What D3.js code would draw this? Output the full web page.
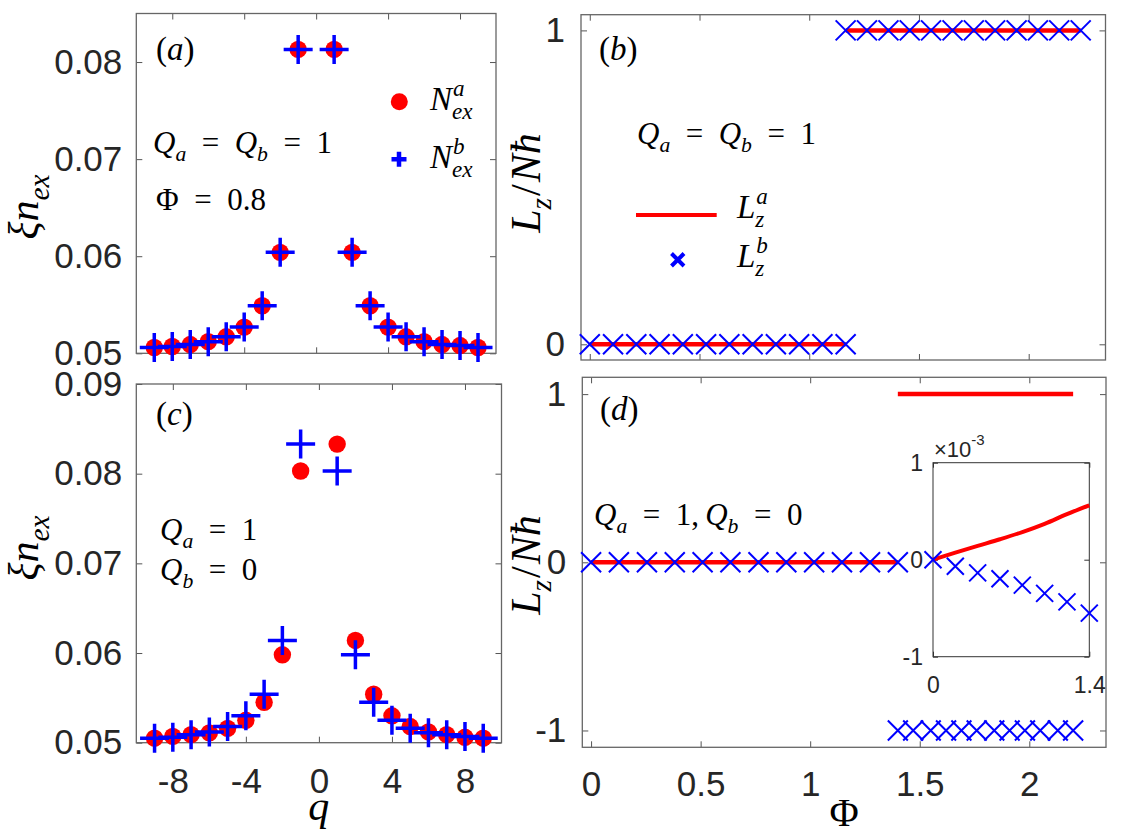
<!DOCTYPE html>
<html>
<head>
<meta charset="utf-8">
<script src="https://d3js.org/d3.v7.min.js"></script>
<style>
  body { margin: 0; background: #fff; }
  .tick text { font-family: "Liberation Sans", Arial, sans-serif; fill: #262626; }
</style>
</head>
<body>
<div id="chart"></div>
<script>
// ---- data ----
var qVals = [-9, -8, -7, -6, -5, -4, -3, -2, -1, 1, 2, 3, 4, 5, 6, 7, 8, 9];

// (a) Qa = Qb = 1, Phi = 0.8
var nexA_a = [0.0506, 0.0507, 0.0509, 0.0512, 0.0517, 0.0527, 0.0549, 0.0604, 0.0813,
              0.0813, 0.0604, 0.0549, 0.0527, 0.0517, 0.0512, 0.0509, 0.0508, 0.0506];
var nexA_b = [0.0506, 0.0507, 0.0509, 0.0512, 0.0517, 0.0527, 0.0549, 0.0604, 0.0813,
              0.0813, 0.0604, 0.0549, 0.0527, 0.0517, 0.0512, 0.0509, 0.0508, 0.0506];

// (c) Qa = 1, Qb = 0
var nexC_a = [0.0505, 0.0507, 0.0509, 0.0511, 0.0516, 0.0525, 0.0545, 0.0598, 0.0803,
              0.0833, 0.0614, 0.0554, 0.0530, 0.0518, 0.0512, 0.0509, 0.0506, 0.0505];
var nexC_b = [0.0505, 0.0506, 0.0509, 0.0512, 0.0518, 0.0530, 0.0554, 0.0614, 0.0833,
              0.0803, 0.0598, 0.0545, 0.0525, 0.0516, 0.0511, 0.0509, 0.0507, 0.0505];

// (b) Lz/N hbar vs Phi
var phiB_low  = [0, 0.106, 0.212, 0.318, 0.424, 0.530, 0.636, 0.742, 0.848, 0.954, 1.060, 1.166];
var LzB_low   = [0, 0, 0, 0, 0, 0, 0, 0, 0, 0, 0, 0];
var phiB_high = [1.166, 1.263, 1.361, 1.458, 1.555, 1.653, 1.750, 1.847, 1.945, 2.042, 2.139, 2.237];
var LzB_high  = [1, 1, 1, 1, 1, 1, 1, 1, 1, 1, 1, 1];

// (d)
var phiD_low  = [0, 0.127, 0.255, 0.382, 0.509, 0.636, 0.764, 0.891, 1.018, 1.145, 1.273, 1.40];
var LzD_low   = [0, 0, 0, 0, 0, 0, 0, 0, 0, 0, 0, 0];
var phiD_high = [1.40, 1.47, 1.55, 1.62, 1.69, 1.76, 1.84, 1.91, 1.98, 2.05, 2.13, 2.20];
var LzD_highA = [1, 1, 1, 1, 1, 1, 1, 1, 1, 1, 1, 1];
var LzD_highB = [-1, -1, -1, -1, -1, -1, -1, -1, -1, -1, -1, -1];

// (d) inset, units of 1e-3
var phiIn  = [0, 0.2, 0.4, 0.6, 0.8, 1.0, 1.2, 1.4];
var LzIn_a = [0, 0.072, 0.142, 0.211, 0.285, 0.370, 0.470, 0.561];
var LzIn_b = [0, -0.068, -0.136, -0.197, -0.262, -0.347, -0.435, -0.551];

// ticks
var qTicks = [-8, -4, 0, 4, 8];
var nexTicksA = [0.05, 0.06, 0.07, 0.08];
var nexTicksC = [0.05, 0.06, 0.07, 0.08, 0.09];
var phiTicks = [0, 0.5, 1, 1.5, 2];
var LzTicksB = [0, 1];
var LzTicksD = [-1, 0, 1];

var RED = "#ff0000", BLUE = "#0000ff";
var SERIF = "'Liberation Serif', 'DejaVu Serif', serif";

var svg = d3.select("#chart").append("svg")
  .attr("width", 1128).attr("height", 835);
svg.append("rect").attr("width", 1128).attr("height", 835).attr("fill", "#fff");

// small math-like text builder: items {t, up, sub, sup, gap}
function mtext(parent, x, y, items, size, anchor, rotate) {
  var outer = parent.append("g")
    .attr("transform", "translate(" + x + "," + y + ")" + (rotate ? " rotate(" + rotate + ")" : ""));
  var g = outer.append("g");
  var cx = 0;
  function txt(xx, yy, fs, it, s) {
    return g.append("text").attr("x", xx).attr("y", yy)
      .attr("font-family", SERIF).attr("font-size", fs)
      .attr("font-style", it ? "italic" : "normal")
      .attr("fill", "#000").text(s);
  }
  items.forEach(function(it) {
    if (it.gap) { cx += it.gap * size; return; }
    if (it.t != null) {
      var t = txt(cx, 0, size, !it.up, it.t);
      cx += t.node().getComputedTextLength();
    }
    var w = 0;
    if (it.sup != null) {
      var s = txt(cx + 1, -0.42 * size, 0.7 * size, true, it.sup);
      w = Math.max(w, s.node().getComputedTextLength() + 1);
    }
    if (it.sub != null) {
      var b = txt(cx, 0.26 * size, 0.7 * size, true, it.sub);
      w = Math.max(w, b.node().getComputedTextLength());
    }
    cx += w;
  });
  if (anchor === "middle") g.attr("transform", "translate(" + (-cx / 2) + ",0)");
  return outer;
}

// generic box axes with inward ticks on all four sides
function makePanel(o) {
  var x = d3.scaleLinear().domain(o.xd).range([o.x0, o.x1]);
  var y = d3.scaleLinear().domain(o.yd).range([o.y1, o.y0]);
  var g = svg.append("g");
  var fs = o.fs || 35, tl = o.tl || 6;

  var left = g.append("g").attr("transform", "translate(" + o.x0 + ",0)")
    .call(d3.axisLeft(y).tickValues(o.yt).tickSize(-tl).tickSizeOuter(0)
      .tickPadding(o.ypad || 14).tickFormat(o.yfmt || (function(d) { return String(d); })));
  var right = g.append("g").attr("transform", "translate(" + o.x1 + ",0)")
    .call(d3.axisRight(y).tickValues(o.yt).tickSize(-tl).tickSizeOuter(0).tickFormat(""));
  var bottom = g.append("g").attr("transform", "translate(0," + o.y1 + ")")
    .call(d3.axisBottom(x).tickValues(o.xt).tickSize(-tl).tickSizeOuter(0)
      .tickPadding(o.xpad || 22).tickFormat(o.xlab ? function(d) { return String(d); } : ""));
  var top = g.append("g").attr("transform", "translate(0," + o.y0 + ")")
    .call(d3.axisTop(x).tickValues(o.xt).tickSize(-tl).tickSizeOuter(0).tickFormat(""));

  g.selectAll(".domain").remove();
  g.selectAll(".tick line").attr("stroke", o.axcol || "#555").attr("stroke-width", 1);
  g.selectAll(".tick text").attr("font-size", fs).attr("fill", "#262626");
  g.append("rect").attr("x", o.x0).attr("y", o.y0)
    .attr("width", o.x1 - o.x0).attr("height", o.y1 - o.y0)
    .attr("fill", "none").attr("stroke", o.axcol || "#666").attr("stroke-width", o.bw || 1.3);
  return { g: g, x: x, y: y, bottom: bottom, left: left };
}

function dots(p, xs, ys, r, col) {
  p.g.append("g").selectAll("circle").data(xs).join("circle")
    .attr("cx", function(d) { return p.x(d); })
    .attr("cy", function(d, i) { return p.y(ys[i]); })
    .attr("r", r).attr("fill", col);
}
function pluses(p, xs, ys, h, sw, col) {
  p.g.append("g").selectAll("path").data(xs).join("path")
    .attr("d", function(d, i) {
      var cx = p.x(d), cy = p.y(ys[i]);
      return "M" + (cx - h) + "," + cy + "H" + (cx + h) + "M" + cx + "," + (cy - h) + "V" + (cy + h);
    })
    .attr("stroke", col).attr("stroke-width", sw).attr("fill", "none");
}
function crosses(p, xs, ys, h, sw, col) {
  p.g.append("g").selectAll("path").data(xs).join("path")
    .attr("d", function(d, i) {
      var cx = p.x(d), cy = p.y(ys[i]);
      return "M" + (cx - h) + "," + (cy - h) + "L" + (cx + h) + "," + (cy + h) +
             "M" + (cx - h) + "," + (cy + h) + "L" + (cx + h) + "," + (cy - h);
    })
    .attr("stroke", col).attr("stroke-width", sw).attr("fill", "none");
}
function line(p, xs, ys, sw, col, curved) {
  var gen = d3.line().x(function(d) { return p.x(d); }).y(function(d, i) { return p.y(ys[i]); });
  if (curved) gen.curve(d3.curveMonotoneX);
  p.g.append("path").datum(xs).attr("d", gen)
    .attr("stroke", col).attr("stroke-width", sw).attr("fill", "none");
}

var f2 = d3.format(".2f");
var EQ = 0.5;

// ---------- (a) ----------
var pa = makePanel({ x0: 136.3, x1: 496, y0: 13.5, y1: 353.3, xd: [-10, 10], yd: [0.05, 0.085],
  xt: qTicks, yt: nexTicksA, yfmt: f2, xlab: false });
dots(pa, qVals, nexA_a, 8.7, RED);
pluses(pa, qVals, nexA_b, 14.5, 3.5, BLUE);

mtext(svg, 156, 60, [{t: "(", up: true}, {t: "a"}, {t: ")", up: true}], 33);
mtext(svg, 153, 153, [{t: "Q", sub: "a"}, {gap: EQ}, {t: "=", up: true}, {gap: EQ},
  {t: "Q", sub: "b"}, {gap: EQ}, {t: "=", up: true}, {gap: EQ}, {t: "1", up: true}], 31);
mtext(svg, 156, 210, [{t: "Φ", up: true}, {gap: EQ}, {t: "=", up: true}, {gap: EQ}, {t: "0.8", up: true}], 31);
// legend
svg.append("circle").attr("cx", 399.3).attr("cy", 101.7).attr("r", 8.5).attr("fill", RED);
svg.append("path").attr("d", "M391.5,159.3H406.5M399,151.8V166.8")
  .attr("stroke", BLUE).attr("stroke-width", 4.5);
mtext(svg, 430, 110, [{t: "N", sup: "a", sub: "ex"}], 33);
mtext(svg, 430, 168, [{t: "N", sup: "b", sub: "ex"}], 33);
mtext(svg, 38, 207, [{t: "ξ"}, {t: "n", sub: "ex"}], 42, "middle", -90);

// ---------- (c) ----------
var pc = makePanel({ x0: 136.3, x1: 501.5, y0: 384, y1: 742.7, xd: [-10, 10], yd: [0.05, 0.09],
  xt: qTicks, yt: nexTicksC, yfmt: f2, xlab: true, xpad: 26 });
dots(pc, qVals, nexC_a, 8.7, RED);
pluses(pc, qVals, nexC_b, 14.5, 3.5, BLUE);
pc.bottom.selectAll(".tick text").attr("dy", "0.35em").attr("y", 38);

mtext(svg, 156, 425, [{t: "(", up: true}, {t: "c"}, {t: ")", up: true}], 33);
mtext(svg, 160, 540, [{t: "Q", sub: "a"}, {gap: EQ}, {t: "=", up: true}, {gap: EQ}, {t: "1", up: true}], 31);
mtext(svg, 160, 580, [{t: "Q", sub: "b"}, {gap: EQ}, {t: "=", up: true}, {gap: EQ}, {t: "0", up: true}], 31);
mtext(svg, 38, 548, [{t: "ξ"}, {t: "n", sub: "ex"}], 42, "middle", -90);
mtext(svg, 318.7, 820, [{t: "q"}], 42, "middle");

// ---------- (b) ----------
var pb = makePanel({ x0: 581, x1: 1105.5, y0: 14.7, y1: 360, xd: [-0.04, 2.35], yd: [-0.05, 1.05],
  xt: phiTicks, yt: LzTicksB, xlab: false, ypad: 16 });
line(pb, phiB_low, LzB_low, 4.5, RED);
line(pb, phiB_high, LzB_high, 4.5, RED);
crosses(pb, phiB_low, LzB_low, 10, 2, BLUE);
crosses(pb, phiB_high, LzB_high, 10, 2, BLUE);

mtext(svg, 599, 60, [{t: "(", up: true}, {t: "b"}, {t: ")", up: true}], 33);
mtext(svg, 637, 144, [{t: "Q", sub: "a"}, {gap: EQ}, {t: "=", up: true}, {gap: EQ},
  {t: "Q", sub: "b"}, {gap: EQ}, {t: "=", up: true}, {gap: EQ}, {t: "1", up: true}], 31);
svg.append("line").attr("x1", 636).attr("x2", 716.7).attr("y1", 215).attr("y2", 215)
  .attr("stroke", RED).attr("stroke-width", 4);
svg.append("path").attr("d", "M671.5,253.5L684,266M671.5,266L684,253.5")
  .attr("stroke", BLUE).attr("stroke-width", 4);
mtext(svg, 737, 218, [{t: "L", sup: "a", sub: "z"}], 33);
mtext(svg, 737, 267, [{t: "L", sup: "b", sub: "z"}], 33);
mtext(svg, 540, 183, [{t: "L", sub: "z"}, {gap: 0.05}, {t: "/", up: true}, {gap: 0.05}, {t: "Nħ"}], 42, "middle", -90);

// ---------- (d) ----------
var pd = makePanel({ x0: 582.3, x1: 1106, y0: 377.3, y1: 747.3, xd: [-0.04, 2.35], yd: [-1.1, 1.1],
  xt: phiTicks, yt: LzTicksD, xlab: true, ypad: 16 });
pd.bottom.selectAll(".tick text").attr("dy", "0.35em").attr("y", 36);
line(pd, phiD_low, LzD_low, 4.5, RED);
line(pd, phiD_high, LzD_highA, 4.5, RED);
crosses(pd, phiD_low, LzD_low, 10, 2, BLUE);
crosses(pd, phiD_high, LzD_highB, 10, 2, BLUE);

mtext(svg, 600, 420, [{t: "(", up: true}, {t: "d"}, {t: ")", up: true}], 33);
mtext(svg, 594, 525, [{t: "Q", sub: "a"}, {gap: EQ}, {t: "=", up: true}, {gap: EQ}, {t: "1,", up: true},
  {gap: 0.2}, {t: "Q", sub: "b"}, {gap: EQ}, {t: "=", up: true}, {gap: EQ}, {t: "0", up: true}], 31);
mtext(svg, 540, 565, [{t: "L", sub: "z"}, {gap: 0.05}, {t: "/", up: true}, {gap: 0.05}, {t: "Nħ"}], 42, "middle", -90);
mtext(svg, 844, 826, [{t: "Φ", up: true}], 40, "middle");

// inset
var pin = makePanel({ x0: 933, x1: 1089.3, y0: 462.7, y1: 656.7, xd: [0, 1.4], yd: [-1, 1],
  xt: [0, 1.4], yt: [-1, 0, 1], xlab: true, fs: 23, ypad: 10, xpad: 20, axcol: "#333", bw: 1, tl: 5 });
pin.g.selectAll(".tick text").attr("font-size", 23);
pin.bottom.selectAll(".tick text").attr("dy", "0.35em").attr("y", 28);
line(pin, phiIn, LzIn_a, 4, RED, true);
crosses(pin, phiIn, LzIn_b, 8.5, 2, BLUE);
var mult = svg.append("text").attr("x", 934).attr("y", 457)
  .attr("font-family", "'Liberation Sans', Arial, sans-serif").attr("font-size", 22).attr("fill", "#262626");
mult.append("tspan").text("×10");
mult.append("tspan").attr("dy", -12).attr("font-size", 15).text("-3");
</script>
</body>
</html>
